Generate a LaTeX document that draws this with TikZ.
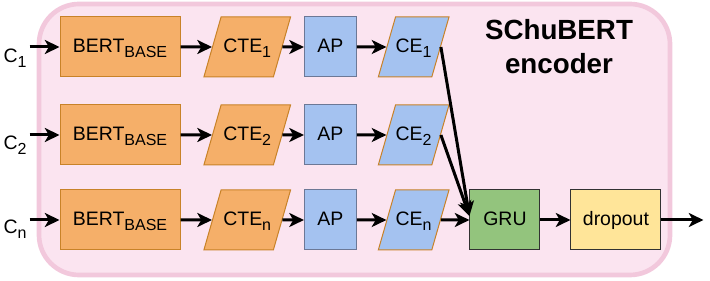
\documentclass[tikz,border=0pt]{standalone}
\usepackage{fontspec}
\setmainfont{Liberation Sans}
\usetikzlibrary{arrows.meta,positioning,shapes.geometric}
\definecolor{bgfill}{RGB}{251,228,240}
\definecolor{bgline}{RGB}{242,200,220}
\definecolor{bertfill}{RGB}{245,175,105}
\definecolor{bertline}{RGB}{200,130,40}
\definecolor{apfill}{RGB}{164,194,240}
\definecolor{apline}{RGB}{108,120,150}
\definecolor{grufill}{RGB}{147,196,125}
\definecolor{dropfill}{RGB}{255,229,153}
\definecolor{darkline}{RGB}{50,50,50}
\newcommand{\lowidx}[1]{\raisebox{-3.5pt}{\fontsize{12}{14}\selectfont #1}}

\begin{document}
\begin{tikzpicture}[x=0.75pt,y=-0.75pt,
      boxtext/.style={font=\fontsize{14.6}{17}\selectfont,inner sep=0pt,text height=10.5pt,text depth=2pt,align=center},
      bertbox/.style={boxtext,draw=bertline,fill=bertfill,line width=0.75pt,minimum width=90pt,minimum height=45pt},
      ctebox/.style={boxtext,trapezium,trapezium left angle=74,trapezium right angle=106,trapezium stretches body,inner ysep=16.25pt,draw=bertline,fill=bertfill,line width=0.75pt,minimum width=65pt,minimum height=45pt},
      apbox/.style={boxtext,draw=apline,fill=apfill,line width=0.75pt,minimum width=39pt,minimum height=45pt},
      cebox/.style={boxtext,trapezium,trapezium left angle=74,trapezium right angle=106,trapezium stretches body,inner ysep=16.25pt,draw=bertline,fill=apfill,line width=0.75pt,minimum width=53pt,minimum height=45pt},
      grubox/.style={boxtext,draw=darkline,fill=grufill,line width=0.75pt,minimum width=52.5pt,minimum height=45pt},
      dropbox/.style={boxtext,draw=darkline,fill=dropfill,line width=0.75pt,minimum width=67.5pt,minimum height=45pt},
      inlabel/.style={boxtext},
      arr/.style={-{Stealth[length=11pt,width=10.5pt,inset=3pt]},line width=2.25pt,black}
    ]
      \useasboundingbox (0,0) rectangle (710,281);
      \draw[line width=3.5pt,draw=bgline,fill=bgfill,rounded corners=30pt] (39,4) rectangle (670,275);
      \node[font=\fontsize{20.8}{25.5}\selectfont\bfseries,align=center] (title) at (559,47) {SChuBERT\\encoder};
      % row 1
      \node[bertbox] (bert1) at (120,47) {BERT\lowidx{BASE}};
      \node[ctebox,right=23.6pt of bert1] (cte1) {CTE\lowidx{1}};
      \node[apbox,right=16.1pt of cte1] (ap1) {AP};
      \node[cebox,right=22.1pt of ap1] (ce1) {CE\lowidx{1}};
      % row 2
      \node[bertbox,below=20.25pt of bert1] (bert2) {BERT\lowidx{BASE}};
      \node[ctebox,right=23.6pt of bert2] (cte2) {CTE\lowidx{2}};
      \node[apbox,right=16.1pt of cte2] (ap2) {AP};
      \node[cebox,right=22.1pt of ap2] (ce2) {CE\lowidx{2}};
      % row n
      \node[bertbox,below=18pt of bert2] (bertn) {BERT\lowidx{BASE}};
      \node[ctebox,right=23.6pt of bertn] (cten) {CTE\lowidx{n}};
      \node[apbox,right=16.1pt of cten] (apn) {AP};
      \node[cebox,right=22.1pt of apn] (cen) {CE\lowidx{n}};
      \node[grubox,right=21.4pt of cen] (gru) {GRU};
      \node[dropbox,right=22.5pt of gru] (drop) {dropout};
      \coordinate[right=31.5pt of drop] (out);
      % inputs
      \coordinate[left=22.5pt of bert1] (in1);
      \coordinate[left=22.5pt of bert2] (in2);
      \coordinate[left=22.5pt of bertn] (inn);
      \node[inlabel] (c1) at (15,57) {C\lowidx{1}};
      \node[inlabel] (c2) at (15,144) {C\lowidx{2}};
      \node[inlabel] (cn) at (15,228) {C\lowidx{n}};
      \draw[arr] (in1) -- (bert1);
      \draw[arr] (in2) -- (bert2);
      \draw[arr] (inn) -- (bertn);
      \draw[arr] (bert1) -- (cte1);
      \draw[arr] (bert2) -- (cte2);
      \draw[arr] (bertn) -- (cten);
      \draw[arr] (cte1) -- (ap1);
      \draw[arr] (cte2) -- (ap2);
      \draw[arr] (cten) -- (apn);
      \draw[arr] (ap1) -- (ce1);
      \draw[arr] (ap2) -- (ce2);
      \draw[arr] (apn) -- (cen);
      \draw[arr] (ce1.east) -- ([yshift=3pt]gru.west);
      \draw[arr] (ce2.east) -- ([yshift=3pt]gru.west);
      \draw[arr] (cen) -- (gru);
      \draw[arr] (gru) -- (drop);
      \draw[arr] (drop) -- (out);
    \end{tikzpicture}
\end{document}
